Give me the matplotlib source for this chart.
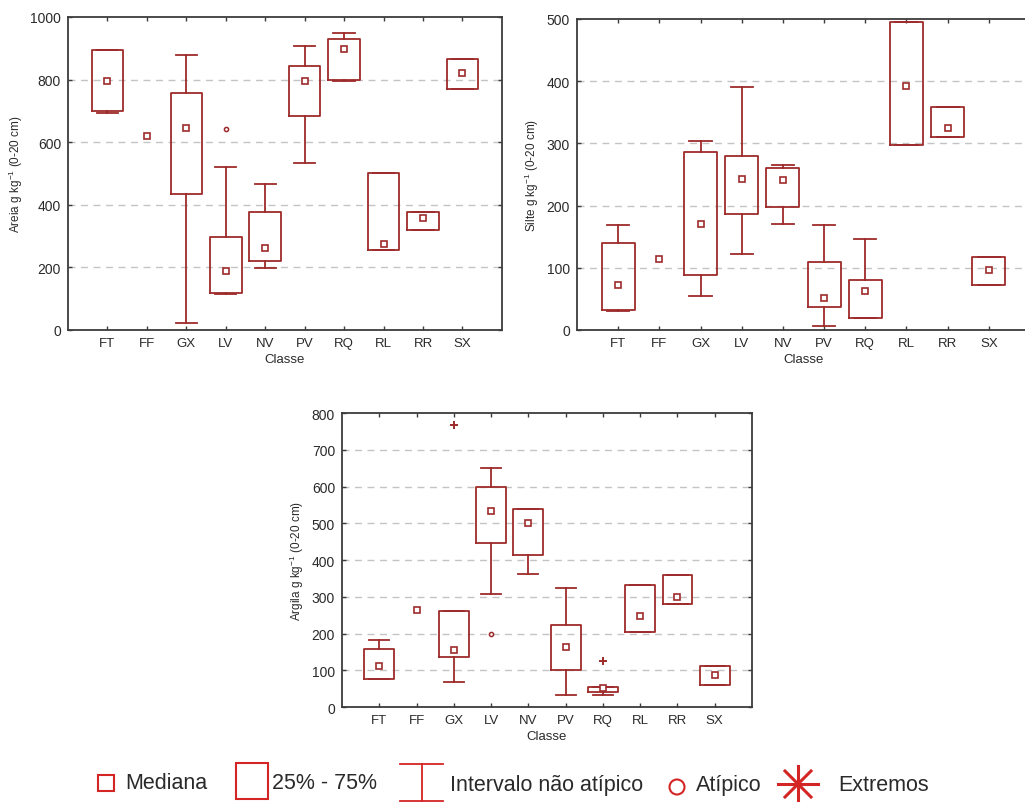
import matplotlib
matplotlib.use('Agg')
import matplotlib.pyplot as plt
from matplotlib.patches import Rectangle, Circle

plt.rcParams['font.family'] = ['Liberation Sans', 'DejaVu Sans']
plt.rcParams['mathtext.default'] = 'regular'

classes = ['FT', 'FF', 'GX', 'LV', 'NV', 'PV', 'RQ', 'RL', 'RR', 'SX']

# Areia (sand)
areia_med = [797, 619, 644, 190, 263, 797, 899, 275, 357, 821]
areia_q1 = [701, None, 436, 118, 220, 683, 798, 257, 321, 770]
areia_q3 = [893, None, 756, 297, 376, 843, 931, 500, 376, 866]
areia_wlo = [692, None, 23, 114, 197, 532, 794, 257, 321, 770]
areia_whi = [893, None, 880, 522, 468, 907, 950, 500, 376, 866]
areia_out = [('LV', 642)]
areia_ext = []

# Silte (silt)
silte_med = [72, 114, 171, 243, 241, 51, 63, 392, 324, 97]
silte_q1 = [32, None, 88, 186, 198, 37, 20, 298, 311, 73]
silte_q3 = [140, None, 286, 279, 260, 110, 80, 495, 359, 117]
silte_wlo = [30, None, 55, 122, 170, 7, 19, 298, 311, 73]
silte_whi = [168, None, 304, 391, 265, 168, 147, 495, 359, 117]
silte_out = []
silte_ext = []

# Argila (clay)
argila_med = [111, 264, 156, 533, 501, 162, 51, 248, 299, 86]
argila_q1 = [77, None, 137, 445, 413, 102, 40, 203, 281, 59]
argila_q3 = [159, None, 262, 600, 538, 223, 54, 332, 359, 112]
argila_wlo = [75, None, 67, 308, 362, 32, 32, 203, 281, 59]
argila_whi = [183, None, 262, 651, 538, 324, 54, 332, 359, 112]
argila_out = [('LV', 198)]
argila_ext = [('GX', 768), ('RQ', 126)]

BOX = '#9e2b2b'
LEG = '#d42525'
SPINE = '#3c3c3c'
TXT = '#2a2a2a'


def box_panel(ax, med, q1, q3, wlo, whi, outliers, extremes, ymax, ystep, ylabel):
    pos = list(range(1, len(classes) + 1))
    stats = []
    bpos = []
    for i, p in enumerate(pos):
        if q1[i] is None:
            continue
        stats.append(dict(med=med[i], q1=q1[i], q3=q3[i],
                          whislo=wlo[i], whishi=whi[i], fliers=[]))
        bpos.append(p)
    ax.bxp(stats, positions=bpos, widths=0.8, capwidths=0.54,
           showfliers=False, manage_ticks=False,
           boxprops=dict(color=BOX, linewidth=1.3),
           whiskerprops=dict(color=BOX, linewidth=1.3),
           capprops=dict(color=BOX, linewidth=1.3),
           medianprops=dict(visible=False))
    ax.plot(pos, med, ls='none', marker='s', ms=4, mfc='white',
            mec=BOX, mew=1.2, zorder=5)
    for c, v in outliers:
        ax.plot(classes.index(c) + 1, v, ls='none', marker='o', ms=3,
                mfc='white', mec=BOX, mew=1.1, zorder=5)
    for c, v in extremes:
        ax.plot(classes.index(c) + 1, v, ls='none', marker='+', ms=6,
                mec=BOX, mew=1.4, zorder=5)

    ax.set_xlim(0, 11)
    ax.set_ylim(0, ymax)
    ax.set_xticks(pos)
    ax.set_xticklabels(classes, fontsize=9.5, color=TXT)
    ax.set_yticks(range(0, ymax + 1, ystep))
    ax.tick_params(axis='y', labelsize=10, labelcolor=TXT)
    ax.tick_params(direction='in', length=3, width=1, color=SPINE,
                   top=True, right=True, pad=5)
    for y in range(ystep, ymax, ystep):
        ax.axhline(y, color='#c4c4c4', lw=1, ls=(0, (5, 4)), zorder=0)
    for s in ax.spines.values():
        s.set_color(SPINE)
        s.set_linewidth(1.3)
    ax.set_xlabel('Classe', fontsize=9.5, color=TXT, labelpad=3)
    ax.set_ylabel(ylabel, fontsize=8.5, color=TXT, labelpad=4)


fig = plt.figure(figsize=(10.25, 8.03), dpi=100)

ax1 = fig.add_axes([0.0663, 0.5878, 0.4234, 0.3898])
box_panel(ax1, areia_med, areia_q1, areia_q3, areia_wlo, areia_whi,
          areia_out, areia_ext, 1000, 200, 'Areia g kg$^{-1}$ (0-20 cm)')

ax2 = fig.add_axes([0.5629, 0.5878, 0.4420, 0.3873])
box_panel(ax2, silte_med, silte_q1, silte_q3, silte_wlo, silte_whi,
          silte_out, silte_ext, 500, 100, 'Silte g kg$^{-1}$ (0-20 cm)')

ax3 = fig.add_axes([0.3337, 0.1183, 0.4000, 0.3661])
box_panel(ax3, argila_med, argila_q1, argila_q3, argila_wlo, argila_whi,
          argila_out, argila_ext, 800, 100, 'Argila g kg$^{-1}$ (0-20 cm)')

# legend strip drawn in pixel coordinates
lg = fig.add_axes([0, 0, 1, 1], zorder=-1)
lg.set_xlim(0, 1025)
lg.set_ylim(803, 0)
lg.axis('off')

lg.add_patch(Rectangle((98, 776), 16, 16, fill=False, ec=LEG, lw=1.5))
lg.text(125, 784, 'Mediana', fontsize=15.5, color=TXT, va='center')
lg.add_patch(Rectangle((236, 764), 32, 36, fill=False, ec=LEG, lw=1.5))
lg.text(272, 784, '25% - 75%', fontsize=15.5, color=TXT, va='center')
lg.plot([400, 443], [765, 765], color=LEG, lw=1.3)
lg.plot([400, 443], [802, 802], color=LEG, lw=1.3)
lg.plot([422, 422], [765, 802], color=LEG, lw=1.3)
lg.text(450, 786, 'Intervalo não atípico', fontsize=15.5, color=TXT, va='center')
lg.add_patch(Circle((677, 788), 7.5, fill=False, ec=LEG, lw=1.5))
lg.text(696, 786, 'Atípico', fontsize=15.5, color=TXT, va='center')
lg.plot([778, 818], [785, 785], color=LEG, lw=2.2)
lg.plot([798, 798], [767, 803], color=LEG, lw=2.2)
lg.plot([785, 811], [772, 798], color=LEG, lw=2.2)
lg.plot([785, 811], [798, 772], color=LEG, lw=2.2)
lg.text(838, 786, 'Extremos', fontsize=15.5, color=TXT, va='center')

fig.savefig('out.png', dpi=100)
